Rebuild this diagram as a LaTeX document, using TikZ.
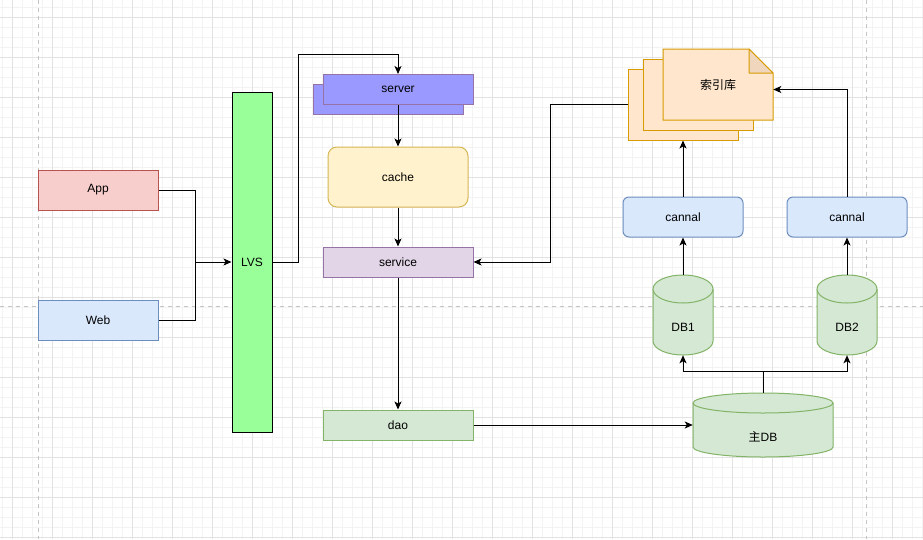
\documentclass[tikz,border=0pt]{standalone}
\usepackage{fontspec}
\setmainfont{Liberation Sans}
\newfontfamily\cjk{Noto Sans CJK SC}
\usetikzlibrary{arrows.meta,calc}
\definecolor{gridminor}{HTML}{F3F3F3}
\definecolor{gridmajor}{HTML}{E2E2E2}
\definecolor{pagebrk}{HTML}{C4C4C4}
\definecolor{redfill}{HTML}{F8CECC}
\definecolor{reddraw}{HTML}{B85450}
\definecolor{bluefill}{HTML}{DAE8FC}
\definecolor{bluedraw}{HTML}{6C8EBF}
\definecolor{lvsfill}{HTML}{99FF99}
\definecolor{serverfill}{HTML}{9999FF}
\definecolor{purpledraw}{HTML}{9673A6}
\definecolor{purplefill}{HTML}{E1D5E7}
\definecolor{yellowfill}{HTML}{FFF2CC}
\definecolor{yellowdraw}{HTML}{D6B656}
\definecolor{greenfill}{HTML}{D5E8D4}
\definecolor{greendraw}{HTML}{82B366}
\definecolor{orangefill}{HTML}{FFE6CC}
\definecolor{orangedraw}{HTML}{D79B00}
\definecolor{foldfill}{HTML}{F0D6BC}
\begin{document}
\begin{tikzpicture}[x=0.75pt,y=-0.75pt,
  txt/.style={font=\fontsize{9}{11}\selectfont},
  box/.style={draw, line width=0.75pt, inner sep=0pt, txt},
  w150/.style={minimum width=112.5pt, minimum height=22.5pt},
  w120/.style={minimum width=90pt, minimum height=30pt},
  redbox/.style={box, w120, fill=redfill, draw=reddraw},
  bluebox/.style={box, w120, fill=bluefill, draw=bluedraw},
  cannalbox/.style={bluebox, rounded corners=4.5pt},
  lvsbox/.style={box, fill=lvsfill, draw=black, minimum width=30pt, minimum height=255pt},
  serverbox/.style={box, w150, fill=serverfill, draw=purpledraw},
  cachebox/.style={box, fill=yellowfill, draw=yellowdraw, rounded corners=6.75pt, minimum width=105pt, minimum height=45pt},
  servicebox/.style={box, w150, fill=purplefill, draw=purpledraw},
  daobox/.style={box, w150, fill=greenfill, draw=greendraw},
  docbox/.style={box, fill=orangefill, draw=orangedraw, minimum width=82.5pt, minimum height=53.25pt},
  docshape/.style={fill=orangefill, draw=orangedraw, line width=0.75pt},
  foldshape/.style={fill=foldfill, draw=orangedraw, line width=0.75pt, line join=round},
  cylnode/.style={inner sep=0pt, txt},
  cyl/.style={fill=greenfill, draw=greendraw, line width=0.75pt},
  lbl/.style={txt, inner sep=0pt},
  arr/.style={-{Stealth[length=6pt,width=5.25pt,inset=1.5pt]}, line width=0.75pt, black},
  ln/.style={line width=0.75pt, black},
  minor/.style={draw=gridminor, line width=0.75pt},
  major/.style={draw=gridmajor, line width=0.75pt},
  pb/.style={draw=pagebrk, line width=0.75pt, dash pattern=on 3pt off 3pt}
]
\useasboundingbox (0,0) rectangle (923,539);
\fill[white] (0,0) rectangle (923,539);
% grid
\foreach \x in {2,12,...,922} \draw[minor] (\x,0) -- (\x,539);
\foreach \y in {7,17,...,537} \draw[minor] (0,\y) -- (923,\y);
\foreach \x in {12,52,...,892} \draw[major] (\x,0) -- (\x,539);
\foreach \y in {17,57,...,537} \draw[major] (0,\y) -- (923,\y);
\draw[pb] (38,0) -- (38,539);
\draw[pb] (866,0) -- (866,539);
\draw[pb] (0,306) -- (923,306);

% left nodes
\node[redbox] (app) at (98,190) {App};
\node[bluebox] (web) at (98,320) {Web};
\node[lvsbox] (lvs) at (252,262) {LVS};

% middle column
\node[serverbox] (serverback) at (388,99.5) {};
\node[serverbox] (server) at (398,89.5) {server};
\node[cachebox] (cache) at (398,177) {cache};
\node[servicebox] (service) at (398,262) {service};
\node[daobox] (dao) at (398,425) {dao};

% index documents
\node[docbox] (back) at (683,104.5) {};
\node[docbox] (middle) at (698,94.5) {};
\draw[docshape] (663,49) -- (749,49) -- (773,73) -- (773,120) -- (663,120) -- cycle;
\draw[foldshape] (749,49) -- (749,73) -- (773,73) -- cycle;
\node[lbl, minimum width=82.5pt, minimum height=53.25pt] (front) at (718,84.5) {\cjk 索引库};

% cannal
\node[cannalbox] (cannal1) at (683,217) {cannal};
\node[cannalbox] (cannal2) at (847,217) {cannal};

% DB cylinders
\draw[cyl] (653,289) -- (653,341) arc[start angle=180,end angle=0,x radius=30,y radius=14]
  -- (713,289) arc[start angle=0,end angle=-180,x radius=30,y radius=14] -- cycle;
\draw[cyl] (653,289) arc[start angle=180,end angle=0,x radius=30,y radius=14];
\node[cylnode, minimum width=45pt, minimum height=60pt,
  label={[lbl,yshift=-9pt]center:DB1}] (db1) at (683,315) {};
\draw[cyl] (817,289) -- (817,341) arc[start angle=180,end angle=0,x radius=30,y radius=14]
  -- (877,289) arc[start angle=0,end angle=-180,x radius=30,y radius=14] -- cycle;
\draw[cyl] (817,289) arc[start angle=180,end angle=0,x radius=30,y radius=14];
\node[cylnode, minimum width=45pt, minimum height=60pt,
  label={[lbl,yshift=-9pt]center:DB2}] (db2) at (847,315) {};
\draw[cyl] (693,403) -- (693,447) arc[start angle=180,end angle=0,x radius=70,y radius=10]
  -- (833,403) arc[start angle=0,end angle=-180,x radius=70,y radius=10] -- cycle;
\draw[cyl] (693,403) arc[start angle=180,end angle=0,x radius=70,y radius=10];
\node[cylnode, minimum width=105pt, minimum height=48pt,
  label={[lbl,yshift=-9pt]center:{{\cjk 主}DB}}] (main) at (763,425) {};

% connectors
\coordinate (j) at (195,262);
\draw[ln] (app.east) -| (j);
\draw[ln] (web.east) -| (j);
\draw[arr] (j) -- (lvs.west);
\draw[arr] (lvs.east) -- ++(26,0) |- ($(server.north)+(0,-20)$) -- (server.north);
\draw[arr] (server.south) -- (cache.north);
\draw[arr] (cache.south) -- (service.north);
\draw[arr] (service.south) -- (dao.north);
\draw[arr] (dao.east) -- (dao.east -| main.west);
\draw[ln] (main.north) -- ++(0,-21) coordinate (mj);
\draw[arr] (mj) -| (db1.south);
\draw[arr] (mj) -| (db2.south);
\draw[arr] (db1.north) -- (cannal1.south);
\draw[arr] (db2.north) -- (cannal2.south);
\draw[arr] (cannal1.north) -- (cannal1.north |- back.south);
\draw[arr] (cannal2.north) |- ($(front.east)+(0,5)$);
\draw[arr] (back.west) -- ++(-77,0) |- (service.east);
\end{tikzpicture}
\end{document}
